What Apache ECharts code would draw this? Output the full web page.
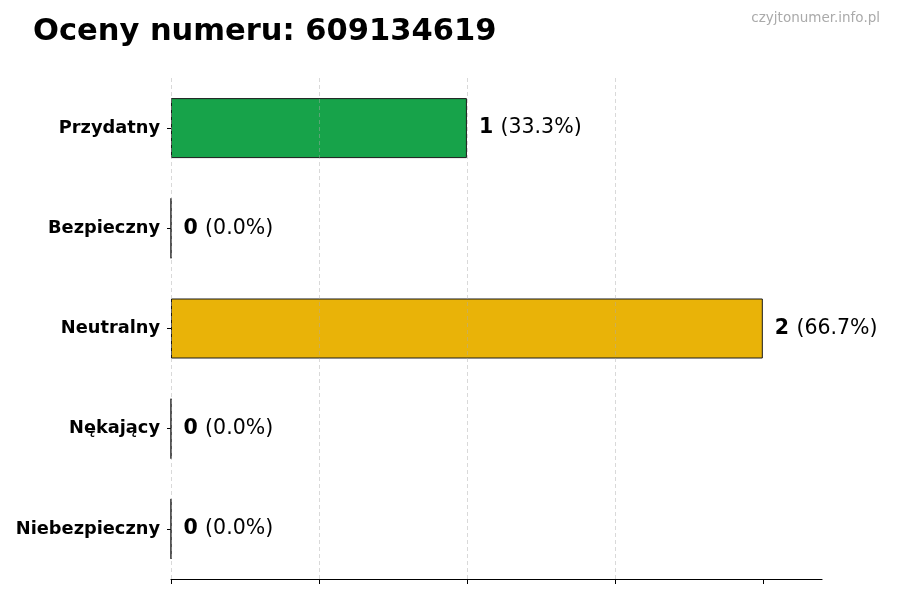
<!DOCTYPE html>
<html>
<head>
<meta charset="utf-8">
<title>Oceny numeru: 609134619</title>
<script src="https://cdn.jsdelivr.net/npm/echarts@6/dist/echarts.min.js"></script>
<style>
  html, body { margin: 0; padding: 0; background: #fff; }
  #chart { width: 900px; height: 600px; }
</style>
</head>
<body>
<div id="chart"></div>
<script>
var dom = document.getElementById("chart");
var myChart;

// dane z wykresu
var categories = ['Przydatny', 'Bezpieczny', 'Neutralny', 'Nękający', 'Niebezpieczny'];
var counts = [1, 0, 2, 0, 0];
var barColors = ['#17a34a', '#16a34a', '#e9b308', '#dc2626', '#b91c1c'];
var tickValues = [0, 0.5, 1, 1.5, 2];

var total = counts.reduce(function (a, b) { return a + b; }, 0);
var font = 'DejaVu Sans';

function initChart() {
    var option = {
        backgroundColor: '#ffffff',
        animation: false,
        title: [
            {
                text: 'Oceny numeru: 609134619',
                left: 28,
                top: 12,
                textStyle: {
                    fontFamily: font,
                    fontSize: 30.5,
                    fontWeight: 'bold',
                    color: '#000'
                }
            },
            {
                text: 'czyjtonumer.info.pl',
                right: 15,
                top: 6,
                textStyle: {
                    fontFamily: font,
                    fontSize: 13.5,
                    fontWeight: 'normal',
                    color: '#aaaaaa'
                }
            }
        ],
        grid: {
            left: 171,
            right: 78,
            top: 78,
            bottom: 21
        },
        xAxis: {
            type: 'value',
            min: 0,
            max: 2.2,
            interval: 0.5,
            z: 3,
            axisLine: { show: true, lineStyle: { color: '#000', width: 1.2 } },
            axisTick: {
                show: true,
                length: 5,
                customValues: tickValues,
                lineStyle: { color: '#000', width: 1 }
            },
            axisLabel: { show: false },
            splitLine: {
                show: true,
                showMinLine: true,
                showMaxLine: false,
                lineStyle: { color: 'rgba(170,170,170,0.45)', type: [4, 3], width: 1 }
            }
        },
        yAxis: {
            type: 'category',
            data: categories,
            inverse: true,
            axisLine: { show: false },
            axisTick: {
                show: true,
                alignWithLabel: true,
                length: 4,
                lineStyle: { color: '#000' }
            },
            axisLabel: {
                margin: 11,
                fontFamily: font,
                fontSize: 17.8,
                fontWeight: 'bold',
                color: '#000'
            },
            splitLine: { show: false }
        },
        series: [
            {
                type: 'bar',
                barWidth: 60,
                data: counts.map(function (v, i) {
                    return {
                        value: v,
                        itemStyle: { color: barColors[i] }
                    };
                }),
                itemStyle: {
                    borderColor: '#1a1a1a',
                    borderWidth: 1
                },
                label: {
                    show: true,
                    position: 'right',
                    distance: 12,
                    formatter: function (p) {
                        var pct = total ? (p.value / total * 100).toFixed(1) : '0.0';
                        return '{b|' + p.value + '} {n|(' + pct + '%)}';
                    },
                    rich: {
                        b: { fontFamily: font, fontSize: 20.5, fontWeight: 'bold', color: '#000', padding: [0, 4, 0, 0] },
                        n: { fontFamily: font, fontSize: 20.5, fontWeight: 'normal', color: '#000' }
                    }
                }
            }
        ]
    };

    myChart = echarts.init(dom);
    myChart.setOption(option, true);
}

initChart();
</script>
</body>
</html>
